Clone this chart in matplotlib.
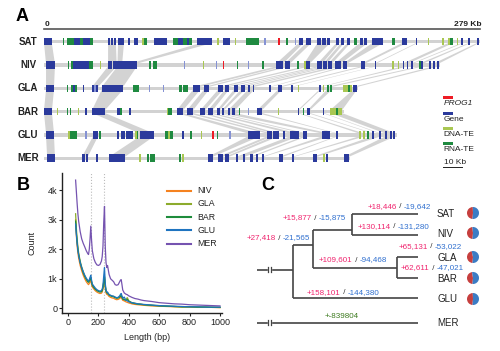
import matplotlib
matplotlib.use("Agg")
import matplotlib.pyplot as plt
from matplotlib.patches import Wedge, Rectangle

plt.rcParams['font.family'] = ['Liberation Sans', 'DejaVu Sans']

# ---------------- panel A data (positions in kb) ----------------
tracks = ["SAT", "NIV", "GLA", "BAR", "GLU", "MER"]
track_len = [279, 253.4, 201, 192, 226, 196]

# block types: g gene, l faint gene, d DNA-TE, r RNA-TE, p PROG1
sat_blocks = [(0, 5, 'g'), (12, 13, 'r'), (14.7, 19.2, 'r'), (19.2, 23, 'g'), (23, 25, 'r'), (25, 29.4, 'g'),
              (29.4, 31.4, 'r'), (41, 42, 'g'), (42.9, 43.9, 'g'), (44.8, 45.8, 'g'), (47.4, 51.2, 'g'),
              (53.8, 54.8, 'g'), (57.6, 60.2, 'g'), (62.7, 64, 'd'), (64, 66, 'r'), (70.4, 78.7, 'g'),
              (82.6, 85.8, 'r'), (85.8, 89, 'g'), (89, 91.5, 'r'), (91.5, 93, 'g'), (93, 94.7, 'r'),
              (98, 107.5, 'g'), (111, 112, 'd'), (114.6, 119, 'g'), (122, 123, 'd'), (129.5, 137.6, 'r'),
              (141, 142, 'l'), (150, 151, 'p'), (155, 156, 'r'), (160.5, 161.5, 'l'), (163, 166, 'g'),
              (167.7, 171, 'g'), (175, 177.5, 'g'), (178, 180.5, 'g'), (181, 183, 'g'), (187, 189, 'g'),
              (190, 192, 'g'), (194, 196, 'g'), (198.4, 200.3, 'r'), (202, 204, 'g'), (205, 207, 'g'),
              (210, 217, 'g'), (222.7, 224.6, 'r'), (229, 232, 'g'), (238, 239, 'g'), (245.5, 246.5, 'd'),
              (255, 256, 'd'), (258.6, 259.8, 'd'), (259.8, 261.8, 'r'), (264, 265, 'd'), (267, 268.3, 'g'),
              (271.5, 272.8, 'g'), (277, 278.3, 'g')]
niv_blocks = [(1.3, 7, 'g'), (15.4, 16.3, 'r'), (17.3, 18.6, 'r'), (18.6, 28.8, 'g'), (28.8, 31.4, 'r'),
              (35.8, 36.7, 'd'), (41, 43.5, 'g'), (44.2, 46.5, 'g'), (47, 59.5, 'g'), (67.2, 68.2, 'r'),
              (69.8, 72.3, 'r'), (89.6, 90.4, 'l'), (101.8, 102.6, 'd'), (110, 110.8, 'l'), (114.6, 115.5, 'p'),
              (123.5, 124.4, 'r'), (130.6, 131.5, 'l'), (139.5, 140.5, 'r'), (148.5, 153, 'g'), (154, 157.4, 'g'),
              (162, 163, 'r'), (166.4, 167.5, 'd'), (167.5, 170, 'g'), (175, 178, 'g'), (178.6, 181, 'g'),
              (181.8, 184.3, 'g'), (186, 190, 'g'), (191.4, 194, 'g'), (203, 205.4, 'g'), (211.5, 212.5, 'g'),
              (223, 224, 'd'), (226.3, 227.3, 'd'), (229.5, 230.5, 'g'), (232, 233, 'g'), (235, 236.2, 'g'),
              (240, 241.2, 'r'), (241.2, 242.6, 'g'), (246.6, 247.6, 'g'), (249.2, 250.2, 'g'), (251.6, 252.6, 'g')]
gla_blocks = [(1.3, 6.4, 'g'), (14.7, 15.6, 'r'), (17.3, 18.6, 'r'), (18.6, 19.8, 'g'), (19.8, 21, 'r'),
              (25, 25.9, 'g'), (30.7, 32, 'g'), (32.3, 33, 'l'), (33.3, 34.6, 'g'), (37, 50.6, 'g'),
              (57, 60.8, 'r'), (67.2, 68, 'l'), (76, 76.8, 'l'), (86.4, 88.6, 'r'), (89.2, 92, 'r'),
              (95.4, 100, 'g'), (102.4, 105.6, 'g'), (111.4, 114.6, 'g'), (115.8, 118.4, 'g'), (121.6, 124, 'g'),
              (126, 128.6, 'g'), (130.6, 132, 'g'), (133.5, 134.5, 'g'), (144.2, 145.2, 'g'), (149.8, 152.3, 'g'),
              (158.3, 159.3, 'g'), (162.3, 163.3, 'd'), (176.2, 177.2, 'g'), (178.4, 179.3, 'd'), (181, 182.5, 'r'),
              (183, 184.3, 'r'), (191.4, 194.6, 'd'), (194.6, 196, 'r'), (196, 197.3, 'd'), (197.8, 200.3, 'g')]
bar_blocks = [(0, 5.1, 'g'), (8, 8.8, 'd'), (14.5, 15.3, 'r'), (16.4, 17.2, 'r'), (21.5, 22.3, 'd'),
              (26.5, 27.5, 'g'), (30.7, 39, 'g'), (46.7, 48.6, 'g'), (48.6, 50, 'r'), (54.6, 55.6, 'g'),
              (78.4, 79.4, 'd'), (79.4, 82, 'r'), (85, 89, 'g'), (91.5, 95.4, 'g'), (100, 103, 'g'),
              (105, 108, 'g'), (110.7, 112.6, 'g'), (113.8, 115.2, 'g'), (117.8, 119, 'g'), (120.3, 122.2, 'g'),
              (124.6, 125.5, 'r'), (130.6, 131.4, 'l'), (136.3, 139.5, 'g'), (149.5, 150.4, 'd'), (162.3, 163.3, 'g'),
              (165.5, 166.4, 'r'), (168.6, 170.2, 'g'), (178.3, 179.3, 'g'), (183, 187, 'd'), (187, 188.3, 'r'),
              (188.3, 190.7, 'd')]
glu_blocks = [(1.3, 6.4, 'g'), (15.4, 16.4, 'd'), (16.8, 21, 'r'), (26.5, 27.3, 'l'), (31.4, 34.6, 'g'),
              (35.5, 36.4, 'r'), (46.7, 48, 'g'), (49.3, 51.8, 'g'), (52.5, 57, 'g'), (58.2, 59.2, 'd'),
              (59.2, 60.2, 'r'), (61.4, 70.4, 'g'), (77.4, 79.5, 'r'), (79.5, 80.5, 'd'), (80.5, 82.6, 'r'),
              (88.6, 89.6, 'g'), (93.6, 94.5, 'r'), (100.2, 101.1, 'd'), (107.5, 108.7, 'p'), (110.5, 111.4, 'r'),
              (118.6, 119.5, 'l'), (130.6, 138.2, 'g'), (142.7, 146, 'g'), (146.7, 150.4, 'g'), (153.2, 154.2, 'g'),
              (157.4, 163, 'g'), (165.8, 168.3, 'g'), (178, 183, 'g'), (187, 188, 'g'), (201.6, 202.6, 'd'),
              (204.4, 205.4, 'd'), (207, 208, 'r'), (210.2, 211.2, 'g'), (214.6, 215.6, 'g'), (218.5, 219.6, 'g'),
              (221.5, 222.6, 'g'), (223.6, 224.8, 'g')]
mer_blocks = [(2, 7, 'g'), (24.3, 26.3, 'g'), (26.6, 28, 'g'), (33.5, 34.5, 'g'), (41.6, 51.8, 'g'),
              (61, 61.9, 'd'), (65.8, 67, 'r'), (67.6, 71, 'r'), (86.6, 87.5, 'r'), (88.6, 89.5, 'd'),
              (105, 108, 'g'), (111.4, 114.6, 'g'), (115.8, 118.4, 'g'), (123, 124, 'g'), (127.5, 128.5, 'g'),
              (131.8, 133.8, 'g'), (135.8, 136.8, 'g'), (139.6, 140.6, 'g'), (150.4, 153, 'g'), (159, 160, 'g'),
              (172, 174.7, 'g'), (178.6, 179.5, 'd'), (180.6, 181.6, 'g'), (192, 195.2, 'g')]
all_blocks = [sat_blocks, niv_blocks, gla_blocks, bar_blocks, glu_blocks, mer_blocks]

# synteny links: (upper track, a0, a1, lower b0, b1)
links = [
    (0, 0, 5, 1.3, 7), (0, 41, 46, 41, 46.5), (0, 47.4, 51.2, 47, 50), (0, 100, 107.5, 55, 59.5),
    (0, 163, 166, 148.5, 153), (0, 167.7, 171, 154, 157.4), (0, 175, 183, 166.4, 170), (0, 187, 189, 175, 178),
    (0, 190, 192, 178.6, 181), (0, 194, 196, 181.8, 184.3), (0, 202, 207, 186, 190), (0, 210, 217, 191.4, 194),
    (0, 229, 232, 203, 205.4), (0, 238, 239, 211.5, 212.5), (0, 258.6, 261.8, 229.5, 233),
    (0, 267, 268.3, 235, 236.2), (0, 271.5, 272.8, 240, 242.6), (0, 277, 278.3, 249.2, 252.6),
    (1, 1.3, 7, 1.3, 6.4), (1, 47, 59.5, 37, 50.6), (1, 41, 46.5, 30.7, 34.6),
    (1, 148.5, 153, 95.4, 100), (1, 154, 157.4, 102.4, 105.6), (1, 166.4, 170, 111.4, 114.6),
    (1, 175, 178, 115.8, 118.4), (1, 178.6, 181, 121.6, 124), (1, 181.8, 184.3, 126, 128.6),
    (1, 186, 190, 130.6, 134.5), (1, 191.4, 194, 144.2, 145.2), (1, 203, 205.4, 149.8, 152.3),
    (1, 211.5, 212.5, 158.3, 159.3), (1, 229.5, 233, 176.2, 177.2), (1, 240, 242.6, 181, 184.3),
    (1, 249.2, 252.6, 197.8, 200.3),
    (2, 1.3, 6.4, 0, 5.1), (2, 37, 50.6, 30.7, 39), (2, 95.4, 100, 85, 89), (2, 102.4, 105.6, 91.5, 95.4),
    (2, 111.4, 114.6, 100, 103), (2, 115.8, 118.4, 105, 108), (2, 121.6, 124, 110.7, 112.6),
    (2, 126, 128.6, 113.8, 115.2), (2, 130.6, 134.5, 117.8, 122.2), (2, 149.8, 152.3, 136.3, 139.5),
    (2, 176.2, 177.2, 162.3, 163.3), (2, 181, 184.3, 168.6, 170.2), (2, 197.8, 200.3, 183, 190.7),
    (3, 0, 5.1, 1.3, 6.4), (3, 30.7, 39, 61.4, 70.4), (3, 85, 89, 130.6, 138.2), (3, 91.5, 95.4, 142.7, 146),
    (3, 100, 103, 146.7, 150.4), (3, 105, 108, 157.4, 163), (3, 110.7, 112.6, 165.8, 168.3),
    (3, 113.8, 122.2, 178, 183), (3, 136.3, 139.5, 187, 188), (3, 162.3, 163.3, 201.6, 205),
    (3, 168.6, 170.2, 210.2, 211.2), (3, 178.3, 179.3, 214.6, 215.6), (3, 183, 190.7, 218.5, 224.8),
    (4, 1.3, 6.4, 2, 7), (4, 61.4, 70.4, 41.6, 51.8), (4, 31.4, 34.6, 24.3, 28),
    (4, 130.6, 138.2, 105, 108), (4, 142.7, 146, 111.4, 114.6), (4, 146.7, 150.4, 115.8, 118.4),
    (4, 157.4, 163, 123, 128.5), (4, 165.8, 168.3, 131.8, 133.8), (4, 178, 183, 139.6, 140.6),
    (4, 187, 188, 150.4, 153), (4, 201.6, 205.4, 159, 160), (4, 210.2, 215.6, 172, 174.7),
    (4, 218.5, 224.8, 192, 195.2),
]
block_colors = {'g': '#2b3a9c', 'l': '#8592d4', 'd': '#a9c752', 'r': '#1f8a40', 'p': '#ee1c25'}

# ---------------- panel B data ----------------
length_bp = [50, 55, 60, 65, 70, 80, 90, 100, 110, 120, 130, 135, 140, 145, 150, 155, 160, 170, 180, 190,
             200, 210, 220, 225, 230, 235, 240, 245, 250, 255, 260, 265, 270, 280, 290, 300, 310, 320, 330,
             340, 345, 350, 355, 360, 370, 380, 390, 400, 420, 440, 460, 480, 500, 550, 600, 650, 700, 750,
             800, 850, 900, 950, 1000]
count_mer = [4.34, 3.95, 3.55, 3.2, 2.95, 2.6, 2.35, 2.2, 2.08, 1.95, 1.85, 1.82, 2.0, 2.35, 2.78, 2.3, 1.95,
             1.68, 1.55, 1.47, 1.45, 1.48, 1.6, 1.75, 2.1, 2.9, 3.45, 2.1, 1.55, 1.38, 1.45, 1.3, 1.15, 1.0,
             0.95, 0.9, 0.8, 0.78, 0.8, 0.9, 0.95, 0.97, 0.8, 0.62, 0.52, 0.48, 0.46, 0.42, 0.37, 0.33, 0.31,
             0.28, 0.26, 0.23, 0.19, 0.17, 0.15, 0.14, 0.12, 0.11, 0.1, 0.09, 0.08]
count_glu = [2.85, 2.5, 2.2, 1.98, 1.8, 1.55, 1.38, 1.24, 1.12, 1.02, 0.95, 0.92, 0.97, 1.05, 1.12, 0.95, 0.82,
             0.75, 0.68, 0.63, 0.6, 0.58, 0.6, 0.65, 0.78, 1.1, 1.38, 0.85, 0.62, 0.55, 0.55, 0.5, 0.47, 0.44,
             0.42, 0.41, 0.38, 0.36, 0.37, 0.42, 0.47, 0.5, 0.42, 0.34, 0.38, 0.28, 0.25, 0.22, 0.19, 0.17,
             0.15, 0.14, 0.13, 0.11, 0.09, 0.08, 0.07, 0.06, 0.05, 0.05, 0.04, 0.04, 0.04]
count_bar = [2.95, 2.55, 2.25, 2.0, 1.82, 1.55, 1.36, 1.2, 1.08, 0.98, 0.9, 0.88, 0.92, 0.98, 1.02, 0.88, 0.78,
             0.7, 0.64, 0.6, 0.57, 0.55, 0.56, 0.6, 0.7, 0.9, 1.05, 0.75, 0.58, 0.52, 0.52, 0.48, 0.45, 0.42,
             0.4, 0.39, 0.36, 0.34, 0.35, 0.38, 0.41, 0.42, 0.37, 0.31, 0.29, 0.27, 0.3, 0.24, 0.18, 0.16,
             0.14, 0.13, 0.12, 0.1, 0.08, 0.07, 0.06, 0.05, 0.05, 0.04, 0.04, 0.03, 0.03]
count_gla = [3.2, 2.7, 2.35, 2.08, 1.88, 1.6, 1.4, 1.24, 1.1, 1.0, 0.92, 0.9, 0.94, 1.0, 1.05, 0.9, 0.8,
             0.72, 0.66, 0.61, 0.58, 0.56, 0.57, 0.62, 0.72, 0.92, 1.08, 0.77, 0.6, 0.53, 0.53, 0.49, 0.46,
             0.43, 0.41, 0.4, 0.37, 0.35, 0.36, 0.39, 0.42, 0.44, 0.38, 0.32, 0.3, 0.29, 0.36, 0.25, 0.19,
             0.17, 0.15, 0.14, 0.12, 0.1, 0.09, 0.07, 0.06, 0.05, 0.05, 0.04, 0.04, 0.03, 0.03]
count_niv = [3.0, 2.45, 2.1, 1.88, 1.7, 1.45, 1.27, 1.12, 1.0, 0.9, 0.83, 0.8, 0.84, 0.9, 0.95, 0.8, 0.72,
             0.65, 0.59, 0.55, 0.52, 0.5, 0.51, 0.55, 0.65, 0.85, 0.98, 0.68, 0.52, 0.47, 0.47, 0.43, 0.4,
             0.37, 0.35, 0.34, 0.31, 0.29, 0.3, 0.33, 0.36, 0.37, 0.32, 0.27, 0.25, 0.22, 0.2, 0.18, 0.15,
             0.13, 0.12, 0.11, 0.1, 0.08, 0.07, 0.06, 0.05, 0.04, 0.04, 0.03, 0.03, 0.03, 0.02]
series_names = ["NIV", "GLA", "BAR", "GLU", "MER"]
series_vals = [count_niv, count_gla, count_bar, count_glu, count_mer]
series_colors = ['#f5821f', '#8cab2c', '#1e8c3c', '#1f74c0', '#7553b0']
peak_marks = [150, 240]

# ---------------- panel C data ----------------
leaf_names = ["SAT", "NIV", "GLA", "BAR", "GLU", "MER"]
gain_loss = [("+27,418", "-21,565"), ("+15,877", "-15,875"), ("+18,446", "-19,642"), ("+130,114", "-131,280"),
             ("+65,131", "-53,022"), ("+109,601", "-94,468"), ("+62,611", "-47,021"), ("+158,101", "-144,380")]
mer_change = "+-839804"
pie_red = [0.48, 0.47, 0.45, 0.46, 0.48]

fig = plt.figure(figsize=(5, 3.51), dpi=100)

# ---- panel A ----
axA = fig.add_axes([44 / 500, 1 - 170 / 351, 436 / 500, 140 / 351])
axA.set_xlim(0, 279)
axA.set_ylim(5.506, -0.502)
axA.axis('off')
h = 0.32
for (i, a0, a1, b0, b1) in links:
    axA.fill([a0, a1, b1, b0], [i + 0.06, i + 0.06, i + 0.94, i + 0.94], color='#d3d3d3', lw=0, zorder=1)
for i, blocks in enumerate(all_blocks):
    axA.broken_barh([(0, track_len[i])], (i - 0.07, 0.14), facecolors='#d2d2d2', zorder=2)
    for s, e, t in blocks:
        axA.broken_barh([(s, e - s)], (i - h / 2, h), facecolors=block_colors[t], zorder=3)

# ---- panel B ----
axB = fig.add_axes([62 / 500, 1 - 313 / 351, 159.7 / 500, 140 / 351])
for x in peak_marks:
    axB.axvline(x, color='#bbbbbb', ls=':', lw=0.8, zorder=0)
for name, vals, c in zip(series_names, series_vals, series_colors):
    axB.plot(length_bp, vals, color=c, lw=0.9)
axB.set_xlim(-39.5, 1011)
axB.set_ylim(-0.16, 4.58)
axB.set_xticks([0, 200, 400, 600, 800, 1000])
axB.set_yticks([0, 1, 2, 3, 4])
axB.set_yticklabels(["0", "1k", "2k", "3k", "4k"])
for sp in ['top', 'right']:
    axB.spines[sp].set_visible(False)
for sp in ['left', 'bottom']:
    axB.spines[sp].set_color('#222222')
    axB.spines[sp].set_linewidth(1.0)
axB.tick_params(labelsize=6.5, length=2, width=0.8, pad=1.5, colors='#222222')
axB.set_xlabel("Length (bp)", fontsize=6.5, color='#222222')
axB.set_ylabel("Count", fontsize=6.5, color='#222222')
axB.xaxis.set_label_coords(0.53, -0.143)
axB.yaxis.set_label_coords(-0.158, 0.5)

# ---- overlay in pixel coordinates ----
ov = fig.add_axes([0, 0, 1, 1])
ov.set_xlim(0, 500)
ov.set_ylim(351, 0)
ov.axis('off')
ov.patch.set_alpha(0)

ov.text(22.5, 16.5, "A", fontsize=13, fontweight='bold', ha='center', va='center')
ov.text(23, 185, "B", fontsize=13, fontweight='bold', ha='center', va='center')
ov.text(268, 185.5, "C", fontsize=13, fontweight='bold', ha='center', va='center')

# scale bar
ov.plot([44, 480], [29, 29], color='#555555', lw=1.2)
ov.text(45, 24, "0", fontsize=6, ha='left', va='center', fontweight='bold', color='#222222')
ov.text(481, 24, "279 Kb", fontsize=6, ha='right', va='center', fontweight='bold', color='#222222')
for i, name in enumerate(tracks):
    ov.text(28, 41.7 + 23.3 * i, name, fontsize=7, fontweight='bold', ha='center', va='center', color='#222222')

# panel A legend
leg_items = [("PROG1", 'p', 95.7), ("Gene", 'g', 111.7), ("DNA-TE", 'd', 126.7), ("RNA-TE", 'r', 141.7)]
for lab, t, y in leg_items:
    ov.add_patch(Rectangle((443, y), 10, 3.6, color=block_colors[t], lw=0))
    ov.text(443.5, y + 8.2, lab, fontsize=6, ha='left', va='center', color='#222222',
            style='italic' if t == 'p' else 'normal')
ov.text(443.5, 162.5, "10 Kb", fontsize=6, ha='left', va='center', color='#222222')
ov.plot([443, 462], [167, 167], color='#222222', lw=0.7)

# panel B legend
for k, (name, c) in enumerate(zip(series_names, series_colors)):
    y = 190.7 + 13.25 * k
    ov.plot([167, 191], [y, y], color=c, lw=1.5)
    ov.text(197, y, name, fontsize=6.3, ha='left', va='center', color='#222222')

# ---- panel C tree ----
tc = '#444444'
hsegs = [(257, 293, 269.5), (257, 418, 322.5), (293, 418, 298), (293, 313, 245), (313, 352, 230),
         (352, 418, 214), (352, 418, 235), (313, 397, 268), (397, 418, 257), (397, 418, 278)]
vsegs = [(293, 245, 298), (313, 230, 268), (352, 214, 235), (397, 257, 278)]
for x0, x1, y in hsegs:
    ov.plot([x0, x1], [y, y], color=tc, lw=1.2, solid_capstyle='butt')
for x, y0, y1 in vsegs:
    ov.plot([x, x], [y0, y1], color=tc, lw=1.2, solid_capstyle='butt')
for y in [269.5, 322.5]:
    ov.add_patch(Rectangle((268.3, y - 2), 2.4, 4, color='white', zorder=5))
    ov.plot([268.3, 268.3], [y - 2.5, y + 2.5], color=tc, lw=0.9, zorder=6)
    ov.plot([270.7, 270.7], [y - 2.5, y + 2.5], color=tc, lw=0.9, zorder=6)

pink = '#f0246e'
blue = '#2f6fcf'
label_pos = [(247, 238), (283, 218), (368, 207), (358, 227), (399, 247), (319, 260), (401, 268), (307, 293)]
fig.canvas.draw()
rend = fig.canvas.get_renderer()
for (g, l), (x, y) in zip(gain_loss, label_pos):
    for s, c in [(g, pink), (" / ", '#333333'), (l, blue)]:
        t = ov.text(x, y, s, fontsize=5.8, color=c, ha='left', va='center')
        x += t.get_window_extent(renderer=rend).width
ov.text(325, 317, mer_change, fontsize=5.8, color='#3c7a1e', ha='left', va='center')

leaf_y = [214, 234, 258, 279, 299, 323]
for name, y in zip(leaf_names, leaf_y):
    ov.text(437, y, name, fontsize=7, ha='left', va='center', color='#222222')
pie_y = [213, 233, 257, 278, 299]
for f, y in zip(pie_red, pie_y):
    a = 95
    ov.add_patch(Wedge((473, y), 6, a, a + 360 * f, color='#c63f3e', lw=0))
    ov.add_patch(Wedge((473, y), 6, a + 360 * f, a + 360, color='#3b7cc4', lw=0))

fig.savefig("out.png", dpi=100)
